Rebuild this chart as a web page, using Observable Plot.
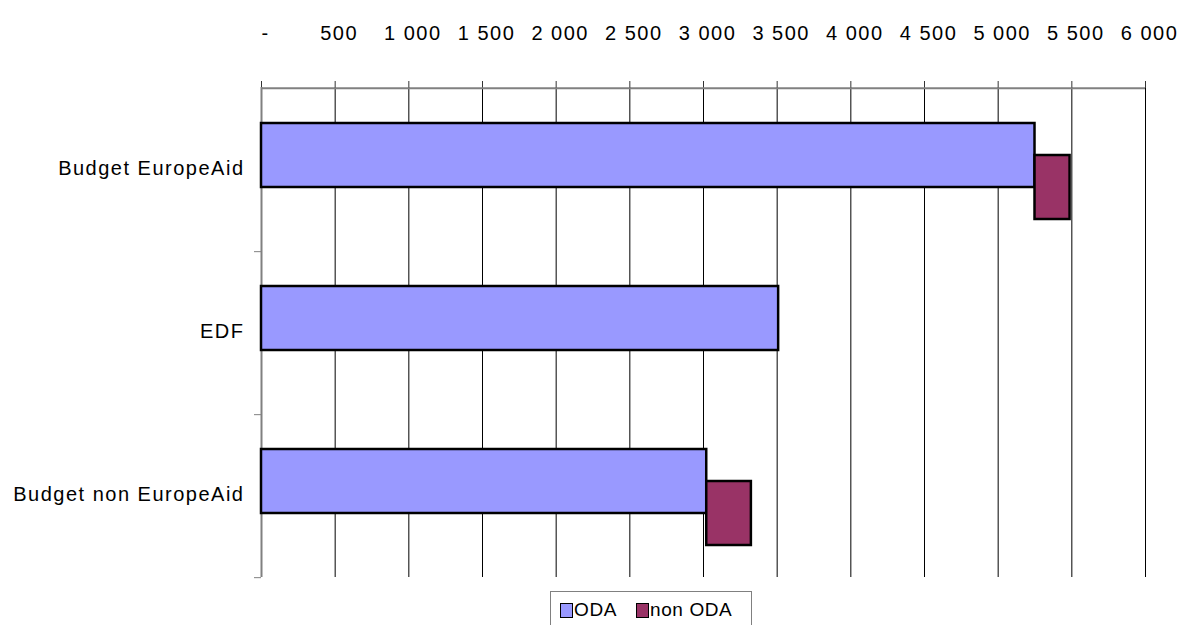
<!DOCTYPE html>
<html>
<head>
<meta charset="utf-8">
<script src="https://cdn.jsdelivr.net/npm/d3@7"></script>
<script src="https://cdn.jsdelivr.net/npm/@observablehq/plot@0.6"></script>
<style>
  html, body { margin: 0; padding: 0; background: #fff; }
  #wrap { position: relative; width: 1183px; height: 625px; overflow: hidden; font-family: "Liberation Sans", Arial, sans-serif; }
  #legend { position: absolute; left: 550px; top: 591px; width: 202px; height: 40px; border: 1px solid #808080; box-sizing: border-box; background: #fff; font-size: 19px; letter-spacing: 0.6px; color: #000; }
  .item { position: absolute; top: 7px; display: flex; align-items: center; }
  .sw { width: 11px; height: 13px; border: 1.5px solid #000; margin-right: 1px; }
</style>
</head>
<body>
<div id="wrap">
  <div id="chart"></div>
  <div id="legend"></div>
</div>
<script>
const categories = ["Budget EuropeAid", "EDF", "Budget non EuropeAid"];
const odaValues = [5250, 3510, 3022];
const nonOdaValues = [238, 0, 303];
const xTicks = [0, 500, 1000, 1500, 2000, 2500, 3000, 3500, 4000, 4500, 5000, 5500, 6000];
const seriesNames = ["ODA", "non ODA"];
const seriesColors = ["#9999FF", "#993366"];

const data = categories.map((c, i) => ({category: c, oda: odaValues[i], nonOda: nonOdaValues[i]}));
const fmt = d => d === 0 ? "-" : d3.format(",")(d).replace(/,/g, " ");

const H = 590, mTop = 87, mBottom = 13;
const bw = (H - mTop - mBottom) / categories.length;

const chart = Plot.plot({
  width: 1183,
  height: H,
  marginLeft: 261,
  marginRight: 38,
  marginTop: mTop,
  marginBottom: mBottom,
  style: {fontFamily: "'Liberation Sans', Arial, sans-serif", fontSize: "20px", letterSpacing: "1.5px", color: "#000", background: "#fff"},
  x: {domain: [0, 6000]},
  y: {domain: categories, padding: 0},
  marks: [
    Plot.ruleX(xTicks, {x: d => d, stroke: "#000", strokeWidth: 1}),
    Plot.axisX({anchor: "top", ticks: xTicks, tickSize: 7, tickFormat: () => "", stroke: "#333", label: null}),
    Plot.axisX({anchor: "top", ticks: xTicks, tickSize: 0, tickPadding: 48, tickFormat: fmt, dx: 4, label: null, fill: "#000"}),
    Plot.ruleY([categories[0]], {y: d => d, dy: -bw / 2, stroke: "#808080", strokeWidth: 2}),
    Plot.ruleX([0], {x: d => d, stroke: "#808080", strokeWidth: 2}),
    Plot.axisY({tickSize: 7, tickFormat: () => "", dy: bw / 2, stroke: "#808080", label: null}),
    Plot.axisY({tickSize: 0, tickPadding: 17, dy: -1, label: null, fill: "#000"}),
    Plot.barX(data, {y: "category", x1: () => 0, x2: "oda", fill: seriesColors[0], stroke: "#000", strokeWidth: 2.5, insetTop: 35, insetBottom: 64}),
    Plot.barX(data.filter(d => d.nonOda > 0), {y: "category", x1: "oda", x2: d => d.oda + d.nonOda, fill: seriesColors[1], stroke: "#000", strokeWidth: 2.5, insetTop: 67, insetBottom: 32})
  ]
});
document.getElementById("chart").appendChild(chart);

const legend = document.getElementById("legend");
const lefts = [9, 85];
seriesNames.forEach((n, i) => {
  const it = document.createElement("div");
  it.className = "item";
  it.style.left = lefts[i] + "px";
  const sw = document.createElement("div");
  sw.className = "sw";
  sw.style.background = seriesColors[i];
  const t = document.createElement("span");
  t.textContent = n;
  it.appendChild(sw);
  it.appendChild(t);
  legend.appendChild(it);
});
</script>
</body>
</html>
